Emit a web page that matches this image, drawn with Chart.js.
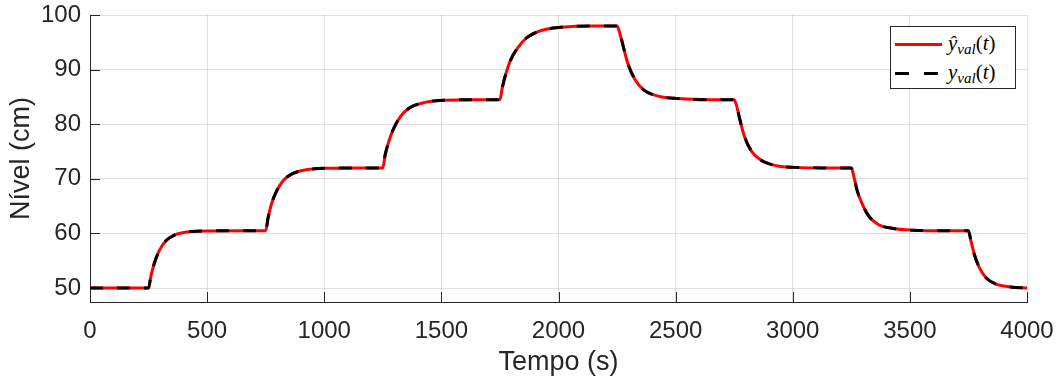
<!DOCTYPE html>
<html>
<head>
<meta charset="utf-8">
<script src="https://cdn.jsdelivr.net/npm/chart.js@4.4.0/dist/chart.umd.min.js"></script>
<style>
  html, body { margin: 0; padding: 0; background: #fff; }
  #box { position: relative; width: 1057px; height: 376px; }
  #legenda {
    position: absolute; left: 890px; top: 26px; width: 124px; height: 61px;
    border: 1px solid #262626; background: #fff;
    font-family: 'Liberation Serif', 'DejaVu Serif', serif; font-size: 21px; color: #000;
  }
  #legenda .item { position: absolute; left: 0; width: 124px; height: 28px; display: flex; align-items: center; }
  #legenda .linha { flex: 0 0 47px; height: 3px; margin-left: 4px; margin-right: 6px; }
  #legenda sub { font-size: 15px; font-style: italic; vertical-align: -4px; }
</style>
</head>
<body>
<div id="box">
  <canvas id="grafico" width="1057" height="376"></canvas>
  <div id="legenda"></div>
</div>
<script>
// tempo (s) e nível (cm)
const tempo = [0,
  250, 260, 275, 295, 325, 365, 430, 510, 650,
  750, 760, 775, 795, 825, 865, 930, 1010, 1150,
  1250, 1260, 1275, 1295, 1325, 1365, 1430, 1510, 1650,
  1750, 1760, 1775, 1795, 1825, 1865, 1930, 2010, 2150,
  2250, 2260, 2275, 2295, 2325, 2365, 2430, 2510, 2650,
  2750, 2760, 2775, 2795, 2825, 2865, 2930, 3010, 3150,
  3250, 3260, 3275, 3295, 3325, 3365, 3430, 3510, 3650,
  3750, 3760, 3775, 3795, 3825, 3865, 3930, 4000];

// saída estimada pelo modelo
const nivelEstimado = [50,
  50, 52.2, 54.6, 56.8, 58.7, 59.8, 60.35, 60.47, 60.5,
  60.5, 62.8, 65.45, 67.6, 69.7, 70.95, 71.7, 71.95, 72,
  72, 74.4, 76.75, 79.1, 81.4, 83.0, 84.0, 84.4, 84.5,
  84.5, 86.7, 89.2, 91.7, 93.95, 95.85, 97.2, 97.75, 98,
  98, 96.9, 94.5, 91.25, 88.3, 86.25, 85.1, 84.7, 84.5,
  84.5, 83.4, 80.75, 77.6, 75.0, 73.4, 72.4, 72.1, 72,
  72, 70.6, 67.85, 65.55, 63.15, 61.65, 60.9, 60.6, 60.5,
  60.5, 58.8, 56.2, 53.9, 51.9, 50.75, 50.2, 50.0];

// saída medida (validação)
const nivelMedido = [50,
  50, 52.2, 54.6, 56.8, 58.7, 59.8, 60.35, 60.47, 60.5,
  60.5, 62.8, 65.45, 67.6, 69.7, 70.95, 71.7, 71.95, 72,
  72, 74.4, 76.75, 79.1, 81.4, 83.0, 84.0, 84.4, 84.5,
  84.5, 86.7, 89.2, 91.7, 93.95, 95.85, 97.2, 97.75, 98,
  98, 96.9, 94.5, 91.25, 88.3, 86.25, 85.1, 84.7, 84.5,
  84.5, 83.4, 80.75, 77.6, 75.0, 73.4, 72.4, 72.1, 72,
  72, 70.6, 67.85, 65.55, 63.15, 61.65, 60.9, 60.6, 60.5,
  60.5, 58.8, 56.2, 53.9, 51.9, 50.75, 50.2, 50.0];

const marcasY = [50, 60, 70, 80, 90, 100];

const corTexto = '#262626';
const corGrade = 'rgba(38, 38, 38, 0.15)';
const fonteEixo = { family: "'Liberation Sans', Arial, sans-serif", size: 24 };
const fonteTitulo = { family: "'Liberation Sans', Arial, sans-serif", size: 27, lineHeight: 1 };

function pontos(ys) {
  return tempo.map((t, i) => ({ x: t, y: ys[i] }));
}

// sem folga extra para os rótulos: a área do gráfico fica onde está no original
function semFolga(s) {
  s.paddingTop = 0;
  s.paddingBottom = 0;
  s.paddingLeft = 0;
  s.paddingRight = 0;
}

// marcas dos eixos para dentro, como no MATLAB
const ticksInternos = {
  id: 'ticksInternos',
  beforeDatasetsDraw(chart) {
    const { ctx, chartArea, scales } = chart;
    ctx.save();
    ctx.strokeStyle = corTexto;
    ctx.lineWidth = 1;
    ctx.beginPath();
    scales.x.ticks.forEach(t => {
      const px = Math.round(scales.x.getPixelForValue(t.value)) + 0.5;
      ctx.moveTo(px, chartArea.bottom);
      ctx.lineTo(px, chartArea.bottom - 10);
    });
    scales.y.ticks.forEach(t => {
      const py = Math.round(scales.y.getPixelForValue(t.value)) + 0.5;
      ctx.moveTo(chartArea.left, py);
      ctx.lineTo(chartArea.left + 10, py);
    });
    ctx.stroke();
    ctx.restore();
  }
};

// legenda em html (para o chapéu e o subscrito)
const legendaHtml = {
  id: 'legendaHtml',
  afterUpdate(chart) {
    const el = document.getElementById('legenda');
    el.innerHTML = '';
    const textos = [
      '<i>ŷ</i><sub>val</sub>(<i>t</i>)',
      '<i>y</i><sub>val</sub>(<i>t</i>)'
    ];
    chart.data.datasets.forEach((ds, i) => {
      const item = document.createElement('div');
      item.className = 'item';
      item.style.top = (i === 0 ? 3 : 32) + 'px';
      const linha = document.createElement('span');
      linha.className = 'linha';
      if (ds.borderDash && ds.borderDash.length) {
        linha.style.background = 'linear-gradient(to right, ' + ds.borderColor + ' 0 14px, transparent 14px 29px, ' + ds.borderColor + ' 29px 43px, transparent 43px)';
      } else {
        linha.style.background = ds.borderColor;
      }
      const txt = document.createElement('span');
      txt.innerHTML = textos[i];
      item.appendChild(linha);
      item.appendChild(txt);
      el.appendChild(item);
    });
  }
};

new Chart(document.getElementById('grafico'), {
  type: 'line',
  data: {
    datasets: [
      {
        label: 'y_hat_val(t)',
        data: pontos(nivelEstimado),
        borderColor: '#ff0000',
        borderWidth: 3,
        pointRadius: 0,
        cubicInterpolationMode: 'monotone',
        order: 1
      },
      {
        label: 'y_val(t)',
        data: pontos(nivelMedido),
        borderColor: '#000000',
        borderWidth: 3,
        borderDash: [13, 14],
        pointRadius: 0,
        cubicInterpolationMode: 'monotone',
        order: 0
      }
    ]
  },
  options: {
    responsive: false,
    animation: false,
    layout: { padding: { top: 15, right: 30, left: 0, bottom: 0 } },
    plugins: {
      legend: { display: false },
      tooltip: { enabled: false }
    },
    scales: {
      x: {
        type: 'linear',
        min: 0,
        max: 4000,
        ticks: {
          stepSize: 500, font: fonteEixo, color: corTexto, padding: 15, maxRotation: 0,
          callback: v => String(v)
        },
        grid: { color: corGrade, drawTicks: false },
        border: { color: corTexto, width: 1 },
        title: { display: true, text: 'Tempo (s)', font: fonteTitulo, color: corTexto, padding: { top: 0, bottom: 0 } },
        afterFit(s) { s.height = 74; semFolga(s); }
      },
      y: {
        min: 47.45,
        max: 100,
        afterBuildTicks(s) { s.ticks = marcasY.map(v => ({ value: v })); },
        ticks: { font: fonteEixo, color: corTexto, padding: 9, callback: v => String(v) },
        grid: { color: corGrade, drawTicks: false },
        border: { color: corTexto, width: 1 },
        title: { display: true, text: 'Nível (cm)', font: fonteTitulo, color: corTexto, padding: { top: 8, bottom: 0 } },
        afterFit(s) { s.width = 90; semFolga(s); }
      }
    }
  },
  plugins: [ticksInternos, legendaHtml]
});
</script>
</body>
</html>
